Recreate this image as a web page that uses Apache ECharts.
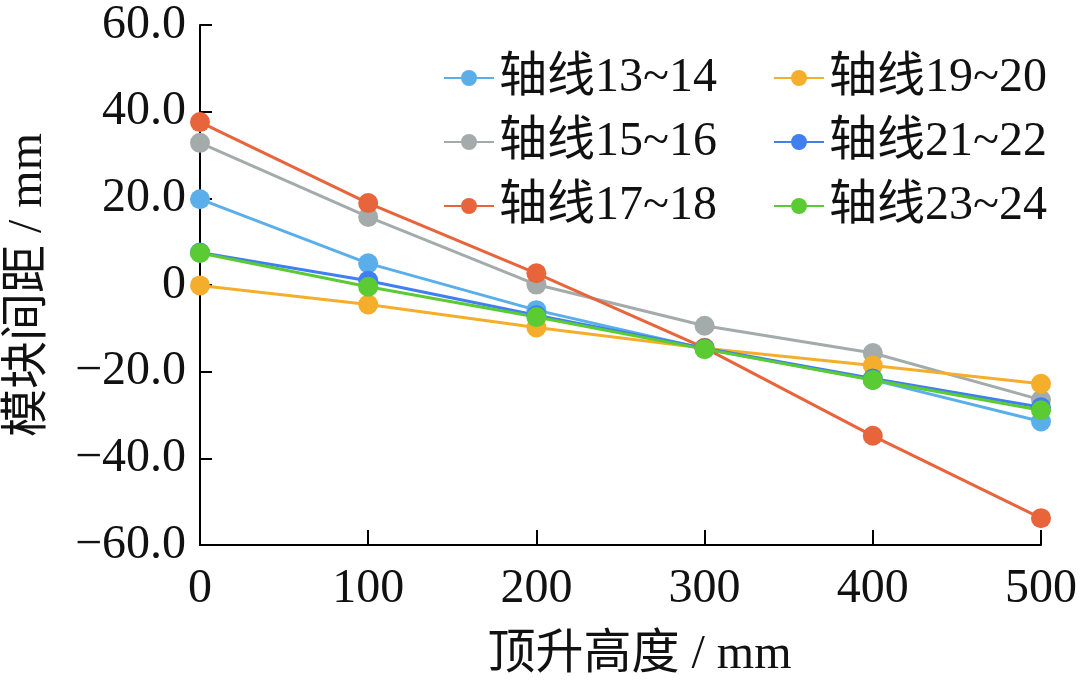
<!DOCTYPE html>
<html><head><meta charset="utf-8">
<script src="https://cdn.jsdelivr.net/npm/echarts@6/dist/echarts.min.js"></script>
<style>html,body{margin:0;padding:0;background:#fff}#c{width:1080px;height:684px}</style>
</head><body><div id="c"></div>
<script>
const categories = [0, 100, 200, 300, 400, 500];
const seriesNames = ['轴线13~14','轴线15~16','轴线17~18','轴线19~20','轴线21~22','轴线23~24'];
const s13_14 = [19.8, 5.0, -5.8, -14.7, -21.9, -31.5];
const s15_16 = [32.8, 15.7, 0.1, -9.4, -15.7, -26.5];
const s17_18 = [37.6, 18.9, 2.7, -14.5, -34.8, -53.8];
const s19_20 = [-0.1, -4.5, -9.8, -14.6, -18.6, -22.8];
const s21_22 = [7.5, 1.0, -7.0, -14.6, -21.6, -28.2];
const s23_24 = [7.4, -0.4, -7.4, -14.8, -21.9, -28.9];
const seriesValues = [s13_14, s15_16, s17_18, s19_20, s21_22, s23_24];
const colors = ['#5aaeea','#a3acab','#e8643b','#f4ae2c','#3f7ff0','#5bcb33'];
const yTicks = [-60, -40, -20, 0, 20, 40, 60];

const serif = '"Liberation Serif","Noto Sans CJK SC",serif';
const chart = echarts.init(document.getElementById('c'));
const txt = {fontFamily: serif, fontSize: 48, color: '#111'};
const legendBase = {orient: 'vertical', top: 49, itemWidth: 50, itemHeight: 20, itemGap: 16, textStyle: Object.assign({padding: [0,0,0,0]}, txt)};
chart.setOption({
  backgroundColor: '#fff',
  animation: false,
  grid: {left: 200, right: 39, top: 25, bottom: 139, containLabel: false, outerBoundsMode: 'none'},
  legend: [
    Object.assign({data: seriesNames.slice(0,3), left: 438}, legendBase),
    Object.assign({data: seriesNames.slice(3), left: 768}, legendBase)
  ],
  xAxis: {
    type: 'value', min: 0, max: 500, interval: 100,
    name: '顶升高度 / mm', nameLocation: 'middle', nameGap: 86,
    nameTextStyle: Object.assign({padding: [0, 0, 0, 38]}, txt),
    axisLine: {onZero: false, lineStyle: {color: '#000', width: 2}},
    axisTick: {inside: true, length: 15, lineStyle: {color: '#000', width: 2}},
    axisLabel: Object.assign({margin: 20}, txt),
    splitLine: {show: false}
  },
  yAxis: {
    type: 'value', min: yTicks[0], max: yTicks[yTicks.length-1], interval: 20,
    name: '模块间距 / mm', nameLocation: 'middle', nameGap: 148,
    nameTextStyle: txt,
    axisLine: {show: true, onZero: false, lineStyle: {color: '#000', width: 2}},
    axisTick: {show: true, inside: true, length: 12, lineStyle: {color: '#000', width: 2}},
    axisLabel: Object.assign({margin: 14, formatter: v => v === 0 ? '0' : (v < 0 ? '\u2212' + Math.abs(v).toFixed(1) : v.toFixed(1))}, txt),
    splitLine: {show: false}
  },
  series: seriesNames.map((n, i) => ({
    name: n, type: 'line',
    data: categories.map((x, j) => [x, seriesValues[i][j]]),
    symbol: 'circle', symbolSize: 20,
    lineStyle: {width: 3, color: colors[i]},
    itemStyle: {color: colors[i]}
  }))
});
</script></body></html>
